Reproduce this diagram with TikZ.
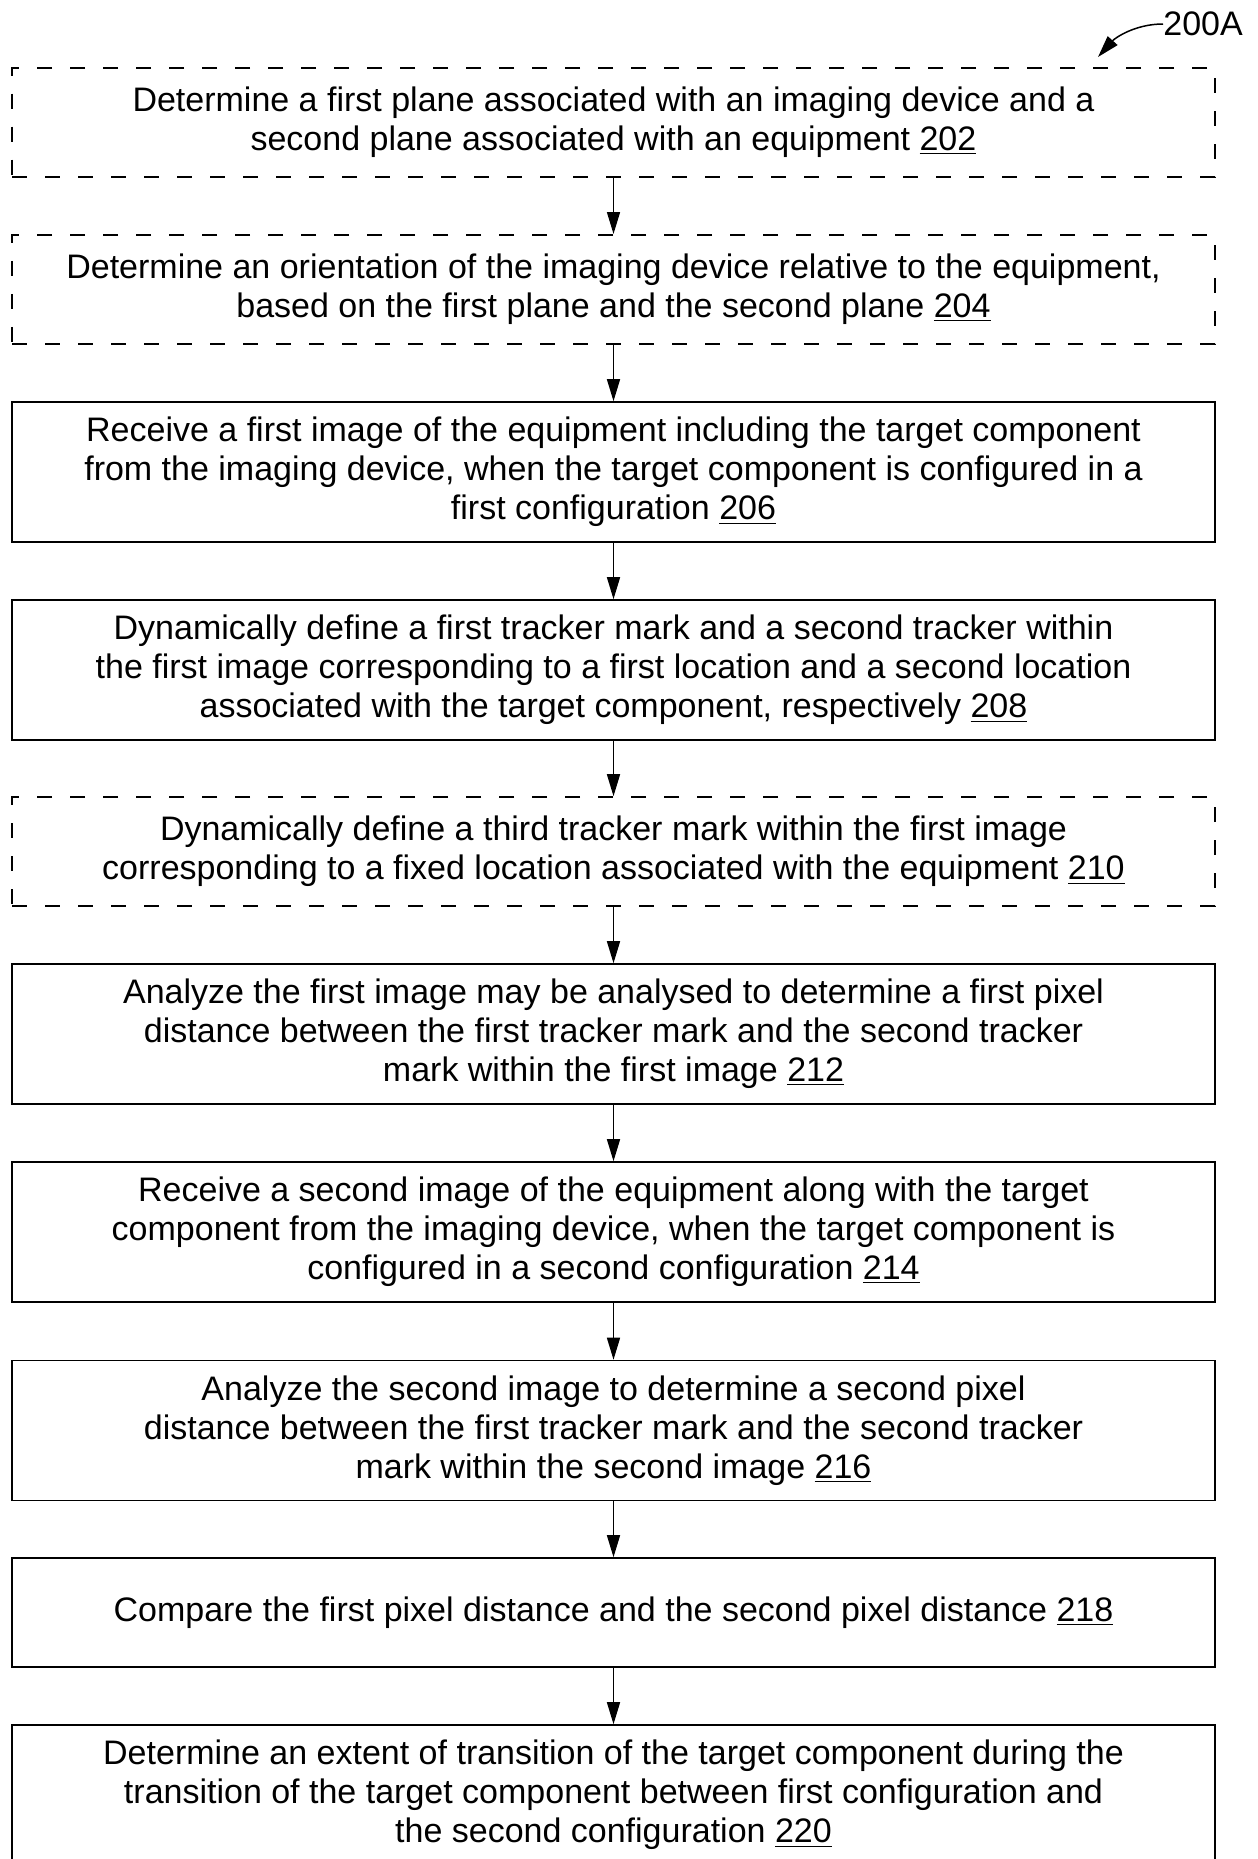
\documentclass[tikz,border=0pt]{standalone}
\usepackage{fontspec}
\setmainfont{Liberation Sans}
\usetikzlibrary{arrows.meta}
\begin{document}
\begin{tikzpicture}[x=0.5pt,y=-0.5pt,
  box/.style={draw=black,line width=0.8pt,minimum width=601.5pt,inner sep=0pt,align=center,
    font=\fontsize{17}{19.5}\selectfont},
  dbox/.style={box,dash pattern=on 7.5pt off 9pt},
  arr/.style={line width=0.75pt,-{Triangle[length=11pt,width=6.5pt]}}]
\useasboundingbox (0,0) rectangle (1258,1859);
\node[dbox,minimum height=54.5pt] (b1) at (613.5,122.2) {Determine a first plane associated with an imaging device and a\\ second plane associated with an equipment \underline{202}};
\node[dbox,minimum height=54.5pt] (b2) at (613.5,289.3) {Determine an orientation of the imaging device relative to the equipment,\\ based on the first plane and the second plane \underline{204}};
\node[box,minimum height=70pt] (b3) at (613.5,472) {Receive a first image of the equipment including the target component\\ from the imaging device, when the target component is configured in a\\ first configuration \underline{206}};
\node[box,minimum height=70pt] (b4) at (613.5,670) {Dynamically define a first tracker mark and a second tracker within\\ the first image corresponding to a first location and a second location\\ associated with the target component, respectively \underline{208}};
\node[dbox,minimum height=54.5pt] (b5) at (613.5,851.5) {Dynamically define a third tracker mark within the first image\\ corresponding to a fixed location associated with the equipment \underline{210}};
\node[box,minimum height=70pt] (b6) at (613.5,1034) {Analyze the first image may be analysed to determine a first pixel\\ distance between the first tracker mark and the second tracker\\ mark within the first image \underline{212}};
\node[box,minimum height=70pt] (b7) at (613.5,1232) {Receive a second image of the equipment along with the target\\ component from the imaging device, when the target component is\\ configured in a second configuration \underline{214}};
\node[box,minimum height=70pt] (b8) at (613.5,1430.5) {Analyze the second image to determine a second pixel\\ distance between the first tracker mark and the second tracker\\ mark within the second image \underline{216}};
\node[box,minimum height=54.5pt] (b9) at (613.5,1612.5) {Compare the first pixel distance and the second pixel distance \underline{218}};
\node[box,minimum height=70pt] (b10) at (613.5,1795) {Determine an extent of transition of the target component during the\\ transition of the target component between first configuration and\\ the second configuration \underline{220}};
\foreach \a/\b in {b1/b2,b2/b3,b3/b4,b4/b5,b5/b6,b6/b7,b7/b8,b8/b9,b9/b10}
  \draw[arr] (\a.south) -- (\b.north);
\node[font=\fontsize{17}{19.5}\selectfont,anchor=west,inner sep=0pt] (lbl) at (1163,24) {200A};
\coordinate (tip) at (1098,57);
\draw[line width=0.75pt,-{Triangle[length=11pt,width=6.5pt]}] (lbl.west) .. controls (1135,24) and (1115,38) .. (tip);
\end{tikzpicture}
\end{document}
